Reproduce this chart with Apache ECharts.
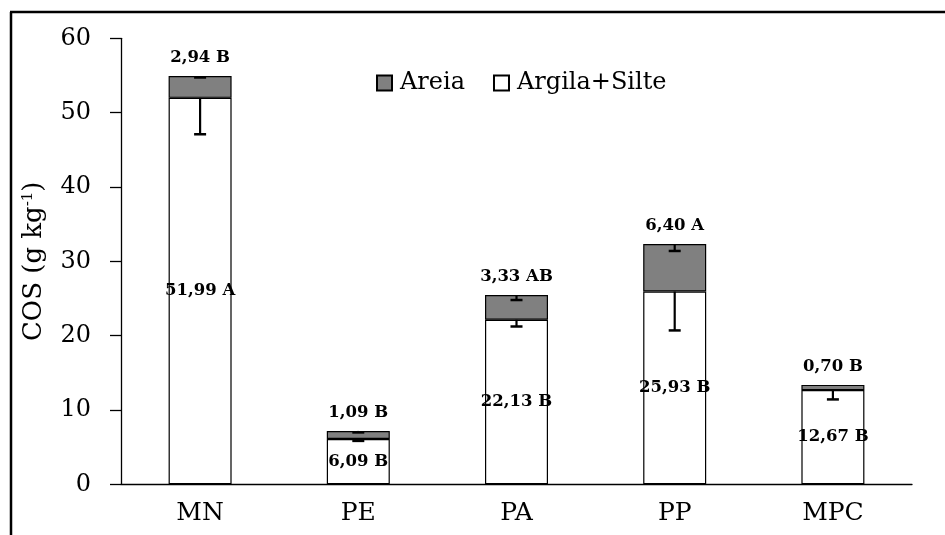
<!DOCTYPE html>
<html><head><meta charset="utf-8">
<script src="https://cdn.jsdelivr.net/npm/echarts@6/dist/echarts.min.js"></script>
<style>html,body{margin:0;padding:0;background:#fff}#c{width:945px;height:535px}</style>
</head><body><div id="c"></div>
<script>
const categories = ['MN','PE','PA','PP','MPC'];
const argilaSilte = [51.99, 6.09, 22.13, 25.93, 12.67];
const areia = [2.94, 1.09, 3.33, 6.40, 0.70];
const argilaLetters = ['A','B','B','B','B'];
const areiaLetters = ['B','B','AB','A','B'];
const argilaErr = [4.9, 0.25, 0.9, 5.23, 1.25];
const areiaErr = [0.2, 0.2, 0.67, 0.94, 0];
const yTicks = [0, 10, 20, 30, 40, 50, 60];

const FONT = '"DejaVu Serif", "Liberation Serif", serif';
const fmt = v => v.toFixed(2).replace('.', ',');

const chart = echarts.init(document.getElementById('c'));

const errData = [];
categories.forEach((c, i) => {
  errData.push([i, argilaSilte[i], argilaErr[i]]);
  errData.push([i, argilaSilte[i] + areia[i], areiaErr[i]]);
});

chart.setOption({
  animation: false,
  backgroundColor: '#fff',
  grid: {left: 121, right: 33, top: 38.3, bottom: 50.7},
  legend: {
    left: 371, top: 66,
    itemWidth: 15, itemHeight: 15, itemGap: 28,
    icon: 'rect',
    textStyle: {fontFamily: FONT, fontSize: 24, color: '#000', padding: [0,0,0,3]},
    data: ['Areia', 'Argila+Silte']
  },
  xAxis: {
    type: 'category', data: categories,
    axisLine: {lineStyle: {color: '#000', width: 1.3}},
    axisTick: {length: 6, lineStyle: {color: '#000', width: 1.3}},
    axisLabel: {fontFamily: FONT, fontSize: 25, color: '#000', margin: 17}
  },
  yAxis: {
    type: 'value', min: yTicks[0], max: yTicks[yTicks.length-1], interval: 10,
    name: 'COS (g kg{sup|-1})', nameLocation: 'middle', nameGap: 74, nameRotate: 90,
    nameTextStyle: {fontFamily: FONT, fontSize: 26, color: '#000',
      rich: {sup: {fontFamily: FONT, fontSize: 15, color: '#000', verticalAlign: 'top', lineHeight: 26}}},
    splitLine: {show: false},
    axisLine: {show: true, lineStyle: {color: '#000', width: 1.3}},
    axisTick: {show: true, inside: false, length: 11, lineStyle: {color: '#000', width: 1.3}},
    axisLabel: {fontFamily: FONT, fontSize: 24, color: '#000', margin: 30}
  },
  graphic: [
    {type: 'line', shape: {x1: 11, y1: 12, x2: 11, y2: 540}, style: {stroke: '#000', lineWidth: 2.5}, z: 100},
    {type: 'line', shape: {x1: 10, y1: 12, x2: 950, y2: 12}, style: {stroke: '#000', lineWidth: 2.5}, z: 100}
  ],
  series: [
    {
      name: 'Argila+Silte', type: 'bar', stack: 's', barWidth: 63,
      data: argilaSilte,
      itemStyle: {color: '#fff', borderColor: '#000', borderWidth: 1.2},
      label: {show: true, position: 'inside', fontFamily: FONT, fontSize: 16.5, fontWeight: 'bold', color: '#000',
        formatter: p => fmt(p.value) + ' ' + argilaLetters[p.dataIndex]}
    },
    {
      name: 'Areia', type: 'bar', stack: 's', barWidth: 63,
      data: areia,
      itemStyle: {color: '#808080', borderColor: '#000', borderWidth: 1.2},
      label: {show: true, position: 'top', distance: 10, fontFamily: FONT, fontSize: 16.5, fontWeight: 'bold', color: '#000',
        formatter: p => fmt(p.value) + ' ' + areiaLetters[p.dataIndex]}
    },
    {
      type: 'custom', z: 10, silent: true,
      data: errData,
      renderItem: (params, api) => {
        const i = api.value(0), top = api.value(1), e = api.value(2);
        if (!e) return null;
        const p1 = api.coord([i, top]);
        const p2 = api.coord([i, top - e]);
        return {type: 'group', children: [
          {type: 'line', shape: {x1: p1[0], y1: p1[1], x2: p2[0], y2: p2[1]}, style: {stroke: '#000', lineWidth: 2.2}},
          {type: 'line', shape: {x1: p2[0]-6, y1: p2[1], x2: p2[0]+6, y2: p2[1]}, style: {stroke: '#000', lineWidth: 2.5}}
        ]};
      }
    }
  ]
});
</script></body></html>
